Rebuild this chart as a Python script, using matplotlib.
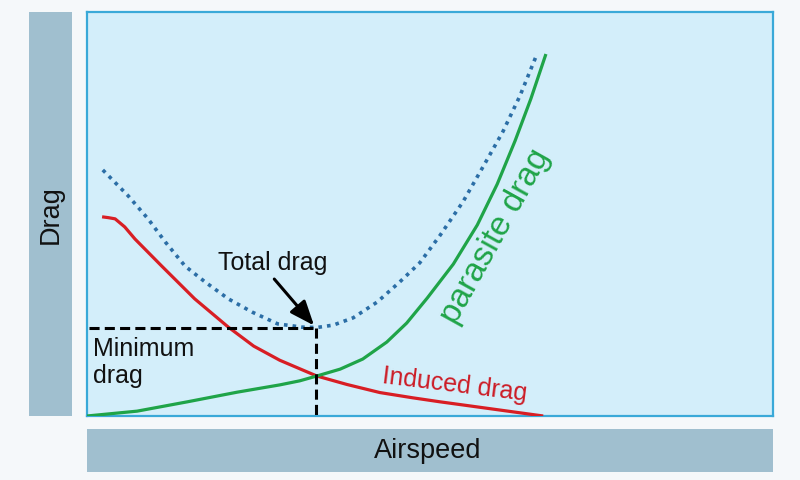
import matplotlib
matplotlib.use("Agg")
import matplotlib.pyplot as plt
from matplotlib.patches import Rectangle

plt.rcParams['font.family'] = ['Liberation Sans', 'DejaVu Sans']

# Data (airspeed and drag in arbitrary 0-100 units)
induced_x = [2.2, 3.1, 4.1, 5.5, 7.0, 10.9, 15.7, 20.6, 24.3, 28.1, 31.0, 33.5, 37.9, 42.7, 47.5, 51.5, 55.8, 66.5]
induced_y = [49.3, 49.1, 48.8, 46.8, 43.8, 37.1, 29.0, 22.0, 17.3, 13.8, 11.7, 9.9, 7.8, 5.8, 4.5, 3.5, 2.5, 0.0]

parasite_x = [0.0, 7.3, 14.6, 21.9, 28.1, 31.0, 33.5, 36.9, 40.2, 43.7, 46.6, 49.6, 53.4, 56.9, 59.8, 62.4, 64.7, 66.9]
parasite_y = [0.0, 1.2, 3.5, 5.9, 7.7, 8.7, 9.9, 11.6, 14.1, 18.3, 23.0, 29.2, 37.6, 47.3, 57.4, 68.1, 78.5, 89.6]

total_x = [2.3, 6.0, 8.9, 11.4, 14.3, 17.2, 20.6, 24.1, 27.8, 31.3, 33.5, 35.9, 38.8, 42.3, 45.6, 48.5,
           51.5, 54.8, 57.7, 60.6, 63.1, 65.6]
total_y = [60.9, 54.5, 48.8, 43.1, 37.1, 33.2, 29.0, 25.7, 22.8, 22.0, 21.9, 22.5, 24.3, 28.2, 33.2, 37.9,
           44.8, 53.0, 61.6, 70.3, 79.2, 89.6]

min_speed = 33.4
min_drag = 21.8

W, H = 800, 481
fig = plt.figure(figsize=(W / 100, H / 100), dpi=100)
fig.patch.set_facecolor('#f5f8fa')

def fx(px):
    return px / W

def fy(py):
    return 1 - py / H

# Label bars
bar_color = '#a0bfcf'
fig.patches.append(Rectangle((fx(29), fy(417)), (72 - 29) / W, (417 - 13) / H,
                             transform=fig.transFigure, facecolor=bar_color, edgecolor='none'))
fig.patches.append(Rectangle((fx(87), fy(473)), (773 - 87) / W, (473 - 430) / H,
                             transform=fig.transFigure, facecolor=bar_color, edgecolor='none'))
fig.text(fx(51), fy(215), 'Drag', rotation=90, ha='center', va='center', fontsize=19.5, color='#111111')
fig.text(fx(428), fy(451), 'Airspeed', ha='center', va='center', fontsize=19.5, color='#111111')

ax = fig.add_axes([fx(87), fy(417), (773 - 87) / W, (417 - 13) / H])
ax.set_facecolor('#d3eefa')
for s in ax.spines.values():
    s.set_color('#3aa9d8')
    s.set_linewidth(1.6)
ax.set_xlim(0, 100)
ax.set_ylim(0, 100)
ax.set_xticks([])
ax.set_yticks([])

ax.plot(total_x, total_y, color='#2b6ea6', lw=2.6, linestyle=(0, (1, 1.4)), dash_capstyle='butt', zorder=3)
ax.plot(induced_x, induced_y, color='#d81e24', lw=2.3, zorder=4, solid_capstyle='butt', solid_joinstyle='round')
ax.plot(parasite_x, parasite_y, color='#1fa448', lw=2.3, zorder=4, solid_capstyle='butt', solid_joinstyle='round')

ax.plot([0.3, min_speed], [min_drag, min_drag], color='black', lw=2.2, linestyle=(0, (3.3, 1.7)), zorder=5)
ax.plot([min_speed, min_speed], [min_drag, 0], color='black', lw=2.2, linestyle=(0, (3.3, 1.7)), zorder=5)

ax.annotate('', xy=(min_speed - 0.3, min_drag + 0.6), xytext=(27.3, 33.9),
            arrowprops=dict(arrowstyle='-|>,head_length=1.5,head_width=0.6', color='black', lw=2.2,
                            shrinkA=0, shrinkB=0), zorder=6)

ax.text(27.0, 38.1, 'Total drag', ha='center', va='center', fontsize=18, color='#111111')
ax.text(0.9, 19.8, 'Minimum\ndrag', ha='left', va='top', fontsize=18, color='#111111', linespacing=1.15)
ax.text(53.6, 7.9, 'Induced drag', ha='center', va='center', fontsize=18, color='#cc1c26', rotation=-7)
ax.text(59.5, 44.6, 'parasite drag', ha='center', va='center', fontsize=24, color='#1fa448', rotation=61)

fig.savefig('out.png', dpi=100, facecolor=fig.get_facecolor())
